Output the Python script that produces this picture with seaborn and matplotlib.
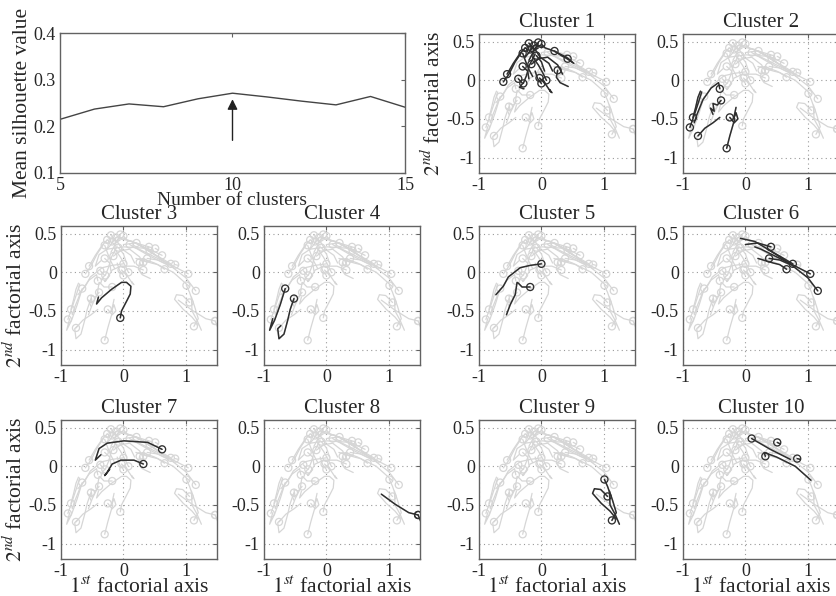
import numpy as np
import pandas as pd
import matplotlib
matplotlib.use("Agg")
import matplotlib.pyplot as plt
import seaborn as sns

sns.set_style("white")
plt.rcParams['font.family'] = ['Liberation Serif', 'DejaVu Serif']
plt.rcParams['mathtext.fontset'] = 'stix'
plt.rcParams['axes.unicode_minus'] = False

# ---- silhouette data ----
n_clusters = [5, 6, 7, 8, 9, 10, 11, 12, 13, 14, 15]
silhouette = [0.215, 0.237, 0.248, 0.242, 0.259, 0.271, 0.263, 0.254, 0.246, 0.264, 0.241]
chosen_k = 10
arrow_from = 0.170
arrow_to = 0.258

# ---- trajectories per cluster (first point = circle marker) ----
cluster1 = [
    [(-0.61, -0.02), (-0.52, 0.08), (-0.42, 0.24), (-0.32, 0.36)],
    [(-0.55, 0.08), (-0.45, 0.22), (-0.35, 0.34), (-0.26, 0.42)],
    [(-0.20, 0.48), (-0.10, 0.40), (-0.02, 0.30), (0.12, 0.22), (0.18, 0.12)],
    [(-0.05, 0.49), (-0.12, 0.38), (-0.20, 0.26)],
    [(0.00, 0.47), (0.06, 0.42), (0.20, 0.38), (0.40, 0.30), (0.52, 0.22)],
    [(0.21, 0.38), (0.32, 0.32), (0.46, 0.26)],
    [(0.42, 0.28), (0.50, 0.23)],
    [(-0.30, 0.35), (-0.25, 0.24), (-0.20, 0.14), (-0.14, 0.05)],
    [(-0.37, 0.02), (-0.30, -0.04), (-0.35, -0.09), (-0.28, -0.11)],
    [(-0.29, -0.04), (-0.24, 0.06), (-0.19, 0.20), (-0.10, 0.34)],
    [(-0.03, 0.03), (0.05, -0.03), (0.10, -0.09), (0.15, -0.15), (0.13, -0.12), (0.17, -0.16)],
    [(0.08, 0.00), (0.02, 0.10), (-0.05, 0.20), (-0.14, 0.30)],
    [(0.26, 0.13), (0.24, 0.04), (0.30, -0.03), (0.43, -0.08)],
    [(-0.16, 0.21), (-0.04, 0.28), (0.10, 0.30), (0.26, 0.20), (0.34, 0.08)],
    [(-0.12, 0.45), (-0.20, 0.36), (-0.26, 0.30)],
    [(-0.26, 0.42), (-0.15, 0.37), (-0.05, 0.42)],
    [(0.00, -0.04), (-0.06, 0.02), (-0.10, 0.12)],
    [(-0.08, 0.32), (0.00, 0.24), (0.05, 0.12)],
    [(-0.30, 0.18), (-0.22, 0.12), (-0.20, 0.02)],
    [(-0.18, 0.40), (-0.10, 0.46), (0.02, 0.44)],
]
cluster2 = [
    [(-0.89, -0.61), (-0.82, -0.45), (-0.75, -0.28), (-0.70, -0.15)],
    [(-0.84, -0.48), (-0.80, -0.36), (-0.76, -0.22), (-0.72, -0.14)],
    [(-0.41, -0.11), (-0.43, -0.03), (-0.55, -0.10), (-0.68, -0.25), (-0.78, -0.45), (-0.82, -0.55)],
    [(-0.39, -0.26), (-0.45, -0.32), (-0.52, -0.30), (-0.50, -0.40), (-0.56, -0.36), (-0.52, -0.44)],
    [(-0.76, -0.72), (-0.65, -0.62), (-0.52, -0.55), (-0.41, -0.48)],
    [(-0.25, -0.48), (-0.18, -0.55), (-0.12, -0.50), (-0.15, -0.42), (-0.19, -0.50), (-0.15, -0.35)],
    [(-0.30, -0.88), (-0.25, -0.72), (-0.20, -0.58), (-0.17, -0.50)],
]
cluster3 = [
    [(-0.05, -0.59), (-0.03, -0.50), (0.06, -0.36), (0.11, -0.28), (0.12, -0.18), (0.05, -0.13),
     (-0.03, -0.13), (-0.19, -0.22), (-0.35, -0.33), (-0.43, -0.41), (-0.40, -0.32)],
]
cluster4 = [
    [(-0.66, -0.21), (-0.74, -0.42), (-0.83, -0.62), (-0.91, -0.75), (-0.86, -0.60)],
    [(-0.52, -0.34), (-0.58, -0.48), (-0.62, -0.62), (-0.68, -0.80), (-0.76, -0.86), (-0.78, -0.73), (-0.73, -0.69)],
]
cluster5 = [
    [(0.00, 0.11), (-0.18, 0.09), (-0.34, 0.06), (-0.53, -0.06), (-0.61, -0.18), (-0.73, -0.29)],
    [(-0.18, -0.19), (-0.31, -0.19), (-0.37, -0.14), (-0.39, -0.13), (-0.42, -0.29), (-0.50, -0.42), (-0.56, -0.55)],
]
cluster6 = [
    [(1.16, -0.24), (1.00, -0.07), (0.70, 0.12), (0.40, 0.28), (0.15, 0.40), (-0.08, 0.44)],
    [(0.41, 0.33), (0.20, 0.38), (0.00, 0.36)],
    [(1.04, -0.02), (0.80, 0.08), (0.50, 0.20), (0.25, 0.30), (0.15, 0.33)],
    [(0.38, 0.18), (0.55, 0.16), (0.72, 0.10)],
    [(0.76, 0.11), (0.55, 0.21), (0.35, 0.30)],
    [(0.66, 0.04), (0.55, 0.10), (0.45, 0.12), (0.20, 0.18)],
]
cluster7 = [
    [(0.62, 0.22), (0.39, 0.31), (0.01, 0.33), (-0.26, 0.30), (-0.39, 0.23), (-0.45, 0.08), (-0.36, 0.15)],
    [(0.32, 0.03), (0.17, 0.08), (-0.04, 0.08), (-0.18, 0.03), (-0.27, -0.09), (-0.30, -0.12), (-0.22, -0.04)],
]
cluster8 = [
    [(1.47, -0.63), (1.32, -0.60), (1.10, -0.49), (0.88, -0.36)],
    [(1.47, -0.63), (1.52, -0.73), (1.56, -0.85)],
]
cluster9 = [
    [(1.01, -0.17), (1.06, -0.26), (1.09, -0.33), (1.10, -0.50), (1.18, -0.62), (1.25, -0.75)],
    [(1.06, -0.39), (0.95, -0.30), (0.85, -0.29), (0.82, -0.35), (0.96, -0.48), (1.10, -0.58), (1.20, -0.68)],
    [(1.13, -0.70), (1.20, -0.60), (1.14, -0.44), (1.09, -0.32)],
]
cluster10 = [
    [(0.10, 0.36), (0.40, 0.22), (0.72, 0.09)],
    [(0.32, 0.13), (0.30, 0.18), (0.50, 0.12), (0.80, 0.00), (1.05, -0.18)],
    [(0.51, 0.31), (0.56, 0.29)],
    [(0.83, 0.10), (0.88, 0.09)],
]
clusters = [cluster1, cluster2, cluster3, cluster4, cluster5,
            cluster6, cluster7, cluster8, cluster9, cluster10]
cluster_titles = [f"Cluster {i}" for i in range(1, 11)]

x_ticks = [-1, 0, 1]
x_ticklabels = ['-1', '0', '1']
y_ticks = [-1, -0.5, 0, 0.5]
y_ticklabels = ['-1', '-0.5', '0', '0.5']
sil_yticks = [0.1, 0.2, 0.3, 0.4]
sil_yticklabels = ['0.1', '0.2', '0.3', '0.4']
sil_xticks = [5, 10, 15]


def traj_frame(trajs, offset=0):
    rows = []
    for i, t in enumerate(trajs):
        for (x, y) in t:
            rows.append((offset + i, x, y))
    return pd.DataFrame(rows, columns=['traj', 'x', 'y'])


frames = []
off = 0
for c in clusters:
    frames.append(traj_frame(c, off))
    off += len(c)
all_df = pd.concat(frames, ignore_index=True)
all_starts = all_df.groupby('traj').first().reset_index()

W, H = 837, 596
fig = plt.figure(figsize=(W / 100, H / 100), dpi=100)


def px_axes(l, t, w, h):
    return fig.add_axes([l / W, 1 - (t + h) / H, w / W, h / H])


SPINE = '#626262'
DARK = '#2e2e2e'
GRAY = '#d6d6d6'
TICK_FS = 13
TITLE_FS = 15
FACT_FS = 15.5


def style_axes(ax):
    for s in ax.spines.values():
        s.set_color(SPINE)
        s.set_linewidth(1.0)
        s.set_zorder(10)
    ax.tick_params(direction='in', length=3, width=0.8, color=SPINE,
                   top=True, right=True, labelsize=TICK_FS, pad=3)


# ---- silhouette panel ----
ax0 = px_axes(60, 33, 345, 140)
sil_df = pd.DataFrame({'k': n_clusters, 's': silhouette})
sns.lineplot(data=sil_df, x='k', y='s', color='#444444', lw=1.0, ax=ax0)
ax0.annotate('', xy=(chosen_k, arrow_to), xytext=(chosen_k, arrow_from),
             arrowprops=dict(arrowstyle='-|>', color='#222222', lw=1.0,
                             mutation_scale=15, shrinkA=0, shrinkB=0))
ax0.set_xlim(5, 15)
ax0.set_ylim(0.1, 0.4)
ax0.set_xticks(sil_xticks)
ax0.set_xticklabels([str(v) for v in sil_xticks])
ax0.set_yticks(sil_yticks)
ax0.set_yticklabels(sil_yticklabels)
style_axes(ax0)
ax0.set_xlabel('Number of clusters', fontsize=14, labelpad=-1.5)
ax0.set_ylabel('Mean silhouette value', fontsize=15.5, labelpad=1)

# ---- cluster panels ----
col_left = [61, 264, 479, 683]
row_top = [34, 226, 420]
positions = [(0, 2), (0, 3), (1, 0), (1, 1), (1, 2), (1, 3),
             (2, 0), (2, 1), (2, 2), (2, 3)]

for ci, (r, c) in enumerate(positions):
    ax = px_axes(col_left[c], row_top[r], 156, 139)
    ax.set_axisbelow(True)
    ax.grid(True, linestyle=(0, (1, 3)), color='#9a9a9a', lw=0.8)
    sns.lineplot(data=all_df, x='x', y='y', units='traj', estimator=None, sort=False,
                 color=GRAY, lw=0.9, ax=ax, legend=False, zorder=2)
    ax.scatter(all_starts['x'], all_starts['y'], s=26, facecolors='none',
               edgecolors=GRAY, linewidths=0.9, zorder=3)
    cdf = traj_frame(clusters[ci])
    cstarts = cdf.groupby('traj').first().reset_index()
    sns.lineplot(data=cdf, x='x', y='y', units='traj', estimator=None, sort=False,
                 color=DARK, lw=1.1, ax=ax, legend=False, zorder=5)
    ax.scatter(cstarts['x'], cstarts['y'], s=26, facecolors='none',
               edgecolors=DARK, linewidths=0.9, zorder=6)
    ax.set_xlim(-1, 1.5)
    ax.set_ylim(-1.2, 0.6)
    ax.set_xticks(x_ticks)
    ax.set_xticklabels(x_ticklabels)
    ax.set_yticks(y_ticks)
    ax.set_yticklabels(y_ticklabels)
    style_axes(ax)
    ax.set_title(cluster_titles[ci], fontsize=TITLE_FS, pad=5)
    ax.set_xlabel('')
    ax.set_ylabel('')
    if ci in (0, 2, 6):
        ax.set_ylabel(r'$2^{nd}$ factorial axis', fontsize=FACT_FS, labelpad=1)
    if r == 2:
        ax.set_xlabel(r'$1^{st}$ factorial axis', fontsize=FACT_FS, labelpad=-2.5)

fig.savefig('out.png', dpi=100)
